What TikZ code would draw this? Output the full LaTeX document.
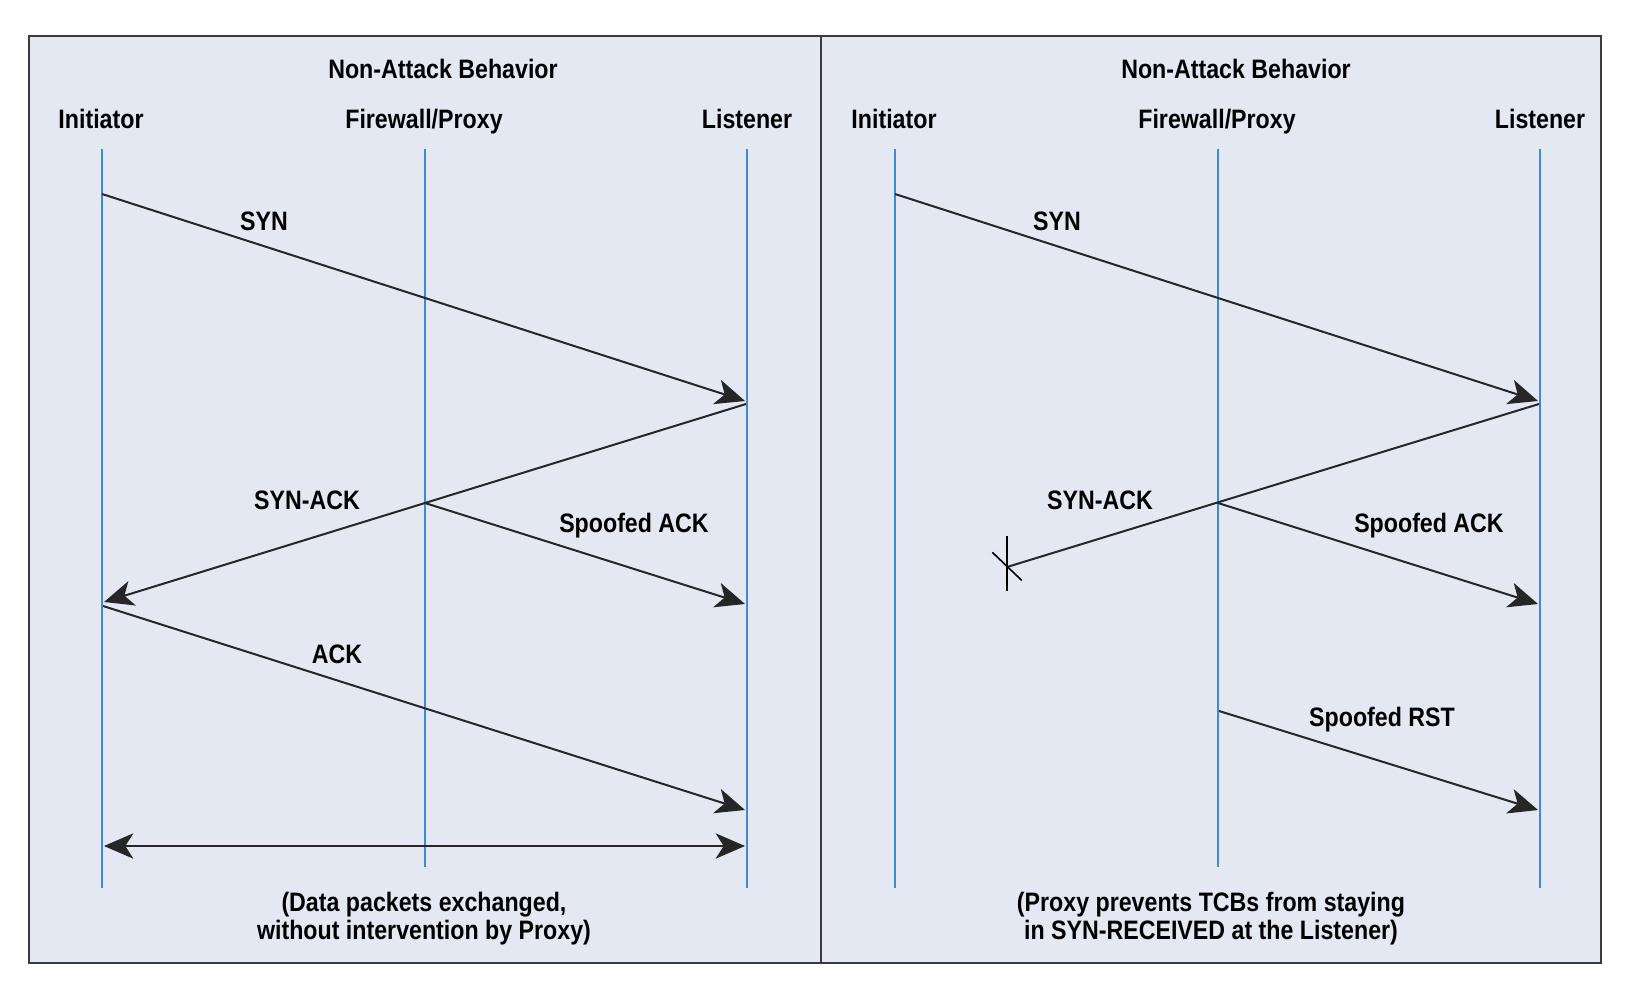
\documentclass[tikz,border=0pt]{standalone}
\usepackage{fontspec}
\setmainfont[FakeStretch=0.87]{Liberation Sans}
\usetikzlibrary{arrows.meta}

\definecolor{panelbg}{HTML}{E3E8F3}
\definecolor{lifeblue}{HTML}{3D8BD5}
\definecolor{framegray}{HTML}{3A3A3A}

\tikzset{every picture/.style={line width=0.75pt}}
\tikzset{
  lbl/.style={font=\fontsize{20}{21}\selectfont\bfseries, inner sep=0.75pt},
  life/.style={draw=lifeblue, line width=1.3pt},
  msg/.style={draw=black!85, line width=1.5pt, -{Stealth[length=22pt, width=19pt, inset=6pt]}},
  both/.style={draw=black!85, line width=1.5pt, {Stealth[length=22pt, width=19pt, inset=6pt]}-{Stealth[length=22pt, width=19pt, inset=6pt]}},
}

\begin{document}
\begin{tikzpicture}[x=0.75pt,y=0.75pt,yscale=-1,xscale=1]
\useasboundingbox (0,0) rectangle (1632,988);

%Shape: Panels
\draw [fill=panelbg, draw=framegray, line width=1.5pt] (29,36) rectangle (1601,963);
\draw [draw=framegray, line width=1.2pt] (821,36) -- (821,963);

%Headers and lifelines, both panels
\foreach \p/\dx in {L/0,R/793}{
  \node [lbl, anchor=base] (title\p) at (443+\dx,79) {Non-Attack Behavior};
  \node [lbl, anchor=base] (ini\p) at (101+\dx,129) {Initiator};
  \node [lbl, anchor=base] (fw\p) at (424+\dx,129) {Firewall/Proxy};
  \node [lbl, anchor=base] (lis\p) at (747+\dx,129) {Listener};
  \coordinate (ini\p-top) at (102+\dx,149);
  \coordinate (ini\p-bot) at (102+\dx,888);
  \coordinate (fw\p-top) at (425+\dx,149);
  \coordinate (fw\p-bot) at (425+\dx,867);
  \coordinate (lis\p-top) at (747+\dx,149);
  \coordinate (lis\p-bot) at (747+\dx,888);
  \draw [life] (ini\p-top) -- (ini\p-bot);
  \draw [life] (fw\p-top) -- (fw\p-bot);
  \draw [life] (lis\p-top) -- (lis\p-bot);
}

%Left panel messages
\coordinate (synL-a) at (102,194);
\coordinate (synL-b) at (745,401);
\coordinate (sackL-a) at (746,404);
\coordinate (sackL-b) at (104,602);
\coordinate (spackL-a) at (425,503);
\coordinate (spackL-b) at (745,604);
\coordinate (ackL-a) at (103,606);
\coordinate (ackL-b) at (745,810);
\coordinate (dataL-a) at (104,846);
\coordinate (dataL-b) at (745,846);
\draw [msg] (synL-a) -- (synL-b);
\draw [msg] (sackL-a) -- (sackL-b);
\draw [msg] (spackL-a) -- (spackL-b);
\draw [msg] (ackL-a) -- (ackL-b);
\draw [both] (dataL-a) -- (dataL-b);

\node [lbl] (synLbl) at (264,221) {SYN};
\node [lbl] (sackLbl) at (307,500) {SYN-ACK};
\node [lbl] (spackLbl) at (634,526) {Spoofed ACK};
\node [lbl] (ackLbl) at (337,654) {ACK};
\node [lbl, align=center] (noteL) at (424,919) {(Data packets exchanged,\\without intervention by Proxy)};

%Right panel messages
\coordinate (synR-a) at (895,194);
\coordinate (synR-b) at (1538,401);
\coordinate (sackR-a) at (1539,404);
\coordinate (drop) at (1007,567);
\coordinate (spackR-a) at (1218,503);
\coordinate (spackR-b) at (1538,604);
\coordinate (rstR-a) at (1219,711);
\coordinate (rstR-b) at (1538,810);
\draw [msg] (synR-a) -- (synR-b);
\draw [draw=black!85, line width=1.5pt] (sackR-a) -- (drop);
\draw [msg] (spackR-a) -- (spackR-b);
\draw [msg] (rstR-a) -- (rstR-b);

%Drop mark
\draw [line width=1.2pt] ([yshift=-23pt]drop) -- ([yshift=18pt]drop);
\draw [line width=1.2pt] ([xshift=-11pt,yshift=-11pt]drop) -- ([xshift=11pt,yshift=10pt]drop);

\node [lbl] (synRLbl) at (1057,221) {SYN};
\node [lbl] (sackRLbl) at (1100,500) {SYN-ACK};
\node [lbl] (spackRLbl) at (1429,526) {Spoofed ACK};
\node [lbl] (rstRLbl) at (1382,720) {Spoofed RST};
\node [lbl, align=center] (noteR) at (1211,919) {(Proxy prevents TCBs from staying\\in SYN-RECEIVED at the Listener)};

\end{tikzpicture}
\end{document}
